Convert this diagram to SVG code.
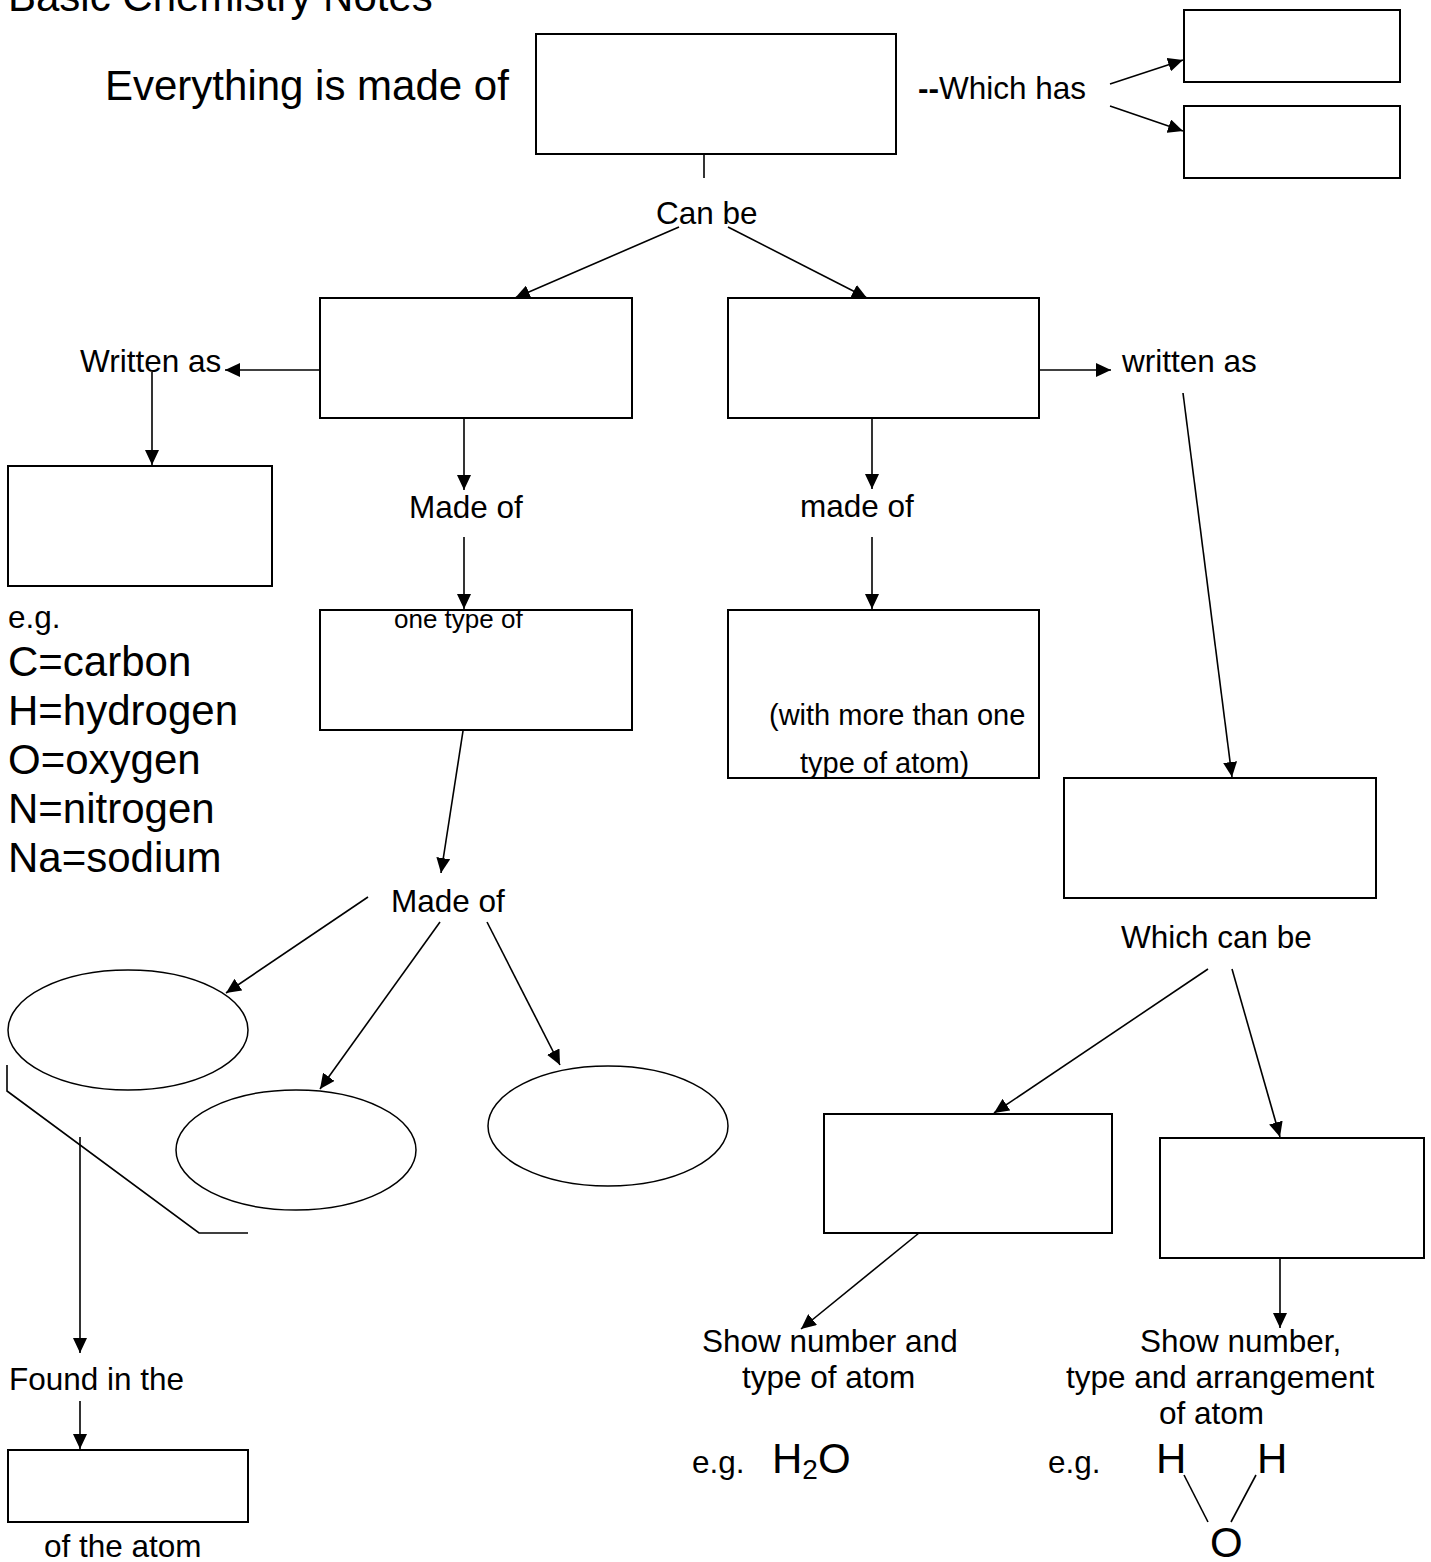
<svg xmlns="http://www.w3.org/2000/svg" width="1431" height="1562" viewBox="0 0 1431 1562">
<style>
text{font-family:"Liberation Sans",Arial,sans-serif;fill:#000}
.L{font-size:42px}
.M{font-size:31.5px}
.box{fill:#fff;stroke:#000;stroke-width:2}
.ell{fill:#fff;stroke:#000;stroke-width:1.5}
.c line,.c polyline{stroke:#000;stroke-width:1.6;fill:none}
.a{marker-end:url(#ah)}
</style>
<defs>
<marker id="ah" viewBox="0 0 15 14" refX="15" refY="7" markerWidth="15" markerHeight="14" markerUnits="userSpaceOnUse" orient="auto">
<path d="M0,0 L15,7 L0,14 z" fill="#000"/>
</marker>
</defs>
<rect width="1431" height="1562" fill="#fff"/>
<text class="L" x="8" y="11">Basic Chemistry Notes</text>
<text class="L" x="105" y="100">Everything is made of</text>
<g id="matter"><rect class="box" x="536" y="34" width="360" height="120"/></g>
<g id="has1"><rect class="box" x="1184" y="10" width="216" height="72"/></g>
<g id="has2"><rect class="box" x="1184" y="106" width="216" height="72"/></g>
<g id="element"><rect class="box" x="320" y="298" width="312" height="120"/></g>
<g id="compound"><rect class="box" x="728" y="298" width="311" height="120"/></g>
<g id="symbol"><rect class="box" x="8" y="466" width="264" height="120"/></g>
<g id="atom"><rect class="box" x="320" y="610" width="312" height="120"/><text x="394" y="628" style="font-size:26px">one type of</text></g>
<g id="molecule"><rect class="box" x="728" y="610" width="311" height="168"/><text x="769" y="725" style="font-size:29px">(with more than one</text><text x="800" y="773" style="font-size:29px">type of atom)</text></g>
<g id="formula"><rect class="box" x="1064" y="778" width="312" height="120"/></g>
<g id="nucleus"><rect class="box" x="8" y="1450" width="240" height="72"/></g>
<g id="molecular"><rect class="box" x="824" y="1114" width="288" height="119"/></g>
<g id="structural"><rect class="box" x="1160" y="1138" width="264" height="120"/></g>
<g id="particle1"><ellipse class="ell" cx="128" cy="1030" rx="120" ry="60"/></g>
<g id="particle2"><ellipse class="ell" cx="296" cy="1150" rx="120" ry="60"/></g>
<g id="particle3"><ellipse class="ell" cx="608" cy="1126" rx="120" ry="60"/></g>
<g class="c" id="connectors">
<line x1="704" y1="154" x2="704" y2="178"/>
<line class="a" x1="679" y1="227" x2="515" y2="298"/>
<line class="a" x1="728" y1="227" x2="867" y2="298"/>
<line class="a" x1="1110" y1="84" x2="1183" y2="60"/>
<line class="a" x1="1110" y1="106" x2="1183" y2="131"/>
<line class="a" x1="320" y1="370" x2="225" y2="370"/>
<line class="a" x1="152" y1="372" x2="152" y2="465"/>
<line class="a" x1="464" y1="418" x2="464" y2="490"/>
<line class="a" x1="464" y1="537" x2="464" y2="609"/>
<line class="a" x1="1039" y1="370" x2="1111" y2="370"/>
<line class="a" x1="872" y1="418" x2="872" y2="489"/>
<line class="a" x1="872" y1="537" x2="872" y2="609"/>
<line class="a" x1="1183" y1="393" x2="1232" y2="777"/>
<line class="a" x1="463" y1="731" x2="441" y2="873"/>
<line class="a" x1="368" y1="897" x2="226" y2="993"/>
<line class="a" x1="440" y1="922" x2="320" y2="1089"/>
<line class="a" x1="487" y1="922" x2="560" y2="1065"/>
<polyline points="7,1065 7,1091 199,1233 248,1233"/>
<line class="a" x1="80" y1="1137" x2="80" y2="1353"/>
<line class="a" x1="80" y1="1401" x2="80" y2="1449"/>
<line class="a" x1="1208" y1="969" x2="994" y2="1113"/>
<line class="a" x1="1232" y1="969" x2="1280" y2="1137"/>
<line class="a" x1="919" y1="1233" x2="801" y2="1329"/>
<line class="a" x1="1280" y1="1258" x2="1280" y2="1328"/>
<line x1="1184" y1="1475" x2="1208" y2="1522"/>
<line x1="1256" y1="1475" x2="1231" y2="1522"/>
</g>
<g id="labels">
<text class="M" x="918" y="99"><tspan style="font-weight:bold">--</tspan>Which has</text>
<text class="M" x="656" y="224">Can be</text>
<text class="M" x="80" y="372">Written as</text>
<text class="M" x="1122" y="372">written as</text>
<text class="M" x="409" y="518">Made of</text>
<text class="M" x="800" y="517">made of</text>
<text class="M" x="8" y="628">e.g.</text>
<text class="L" x="8" y="676">C=carbon</text>
<text class="L" x="8" y="725">H=hydrogen</text>
<text class="L" x="8" y="774">O=oxygen</text>
<text class="L" x="8" y="823">N=nitrogen</text>
<text class="L" x="8" y="872">Na=sodium</text>
<text class="M" x="391" y="912">Made of</text>
<text class="M" x="1121" y="948">Which can be</text>
<text class="M" x="9" y="1390">Found in the</text>
<text class="M" x="44" y="1557">of the atom</text>
<text class="M" x="702" y="1352">Show number and</text>
<text class="M" x="742" y="1388">type of atom</text>
<text class="M" x="1140" y="1352">Show number,</text>
<text class="M" x="1066" y="1388">type and arrangement</text>
<text class="M" x="1159" y="1424">of atom</text>
<text class="M" x="692" y="1473">e.g.</text>
<text class="L" x="772" y="1473">H<tspan style="font-size:28px" dy="6">2</tspan><tspan dy="-6">O</tspan></text>
<text class="M" x="1048" y="1473">e.g.</text>
<text class="L" x="1156" y="1473">H</text>
<text class="L" x="1257" y="1473">H</text>
<text class="L" x="1210" y="1557">O</text>
</g>
</svg>
